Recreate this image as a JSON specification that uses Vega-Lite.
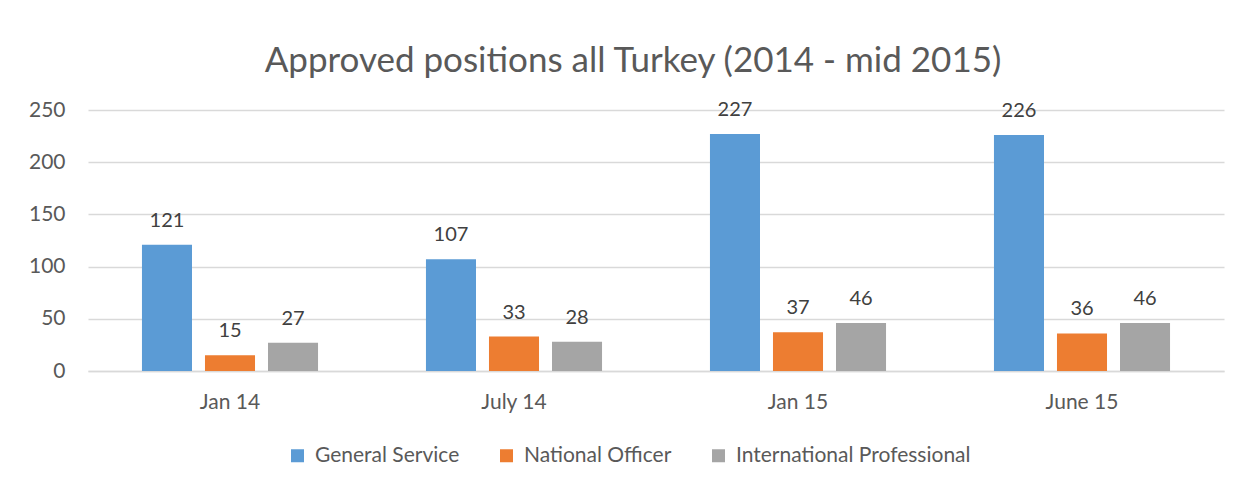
{
  "$schema": "https://vega.github.io/schema/vega-lite/v6.json",
  "autosize": {"type": "none"},
  "width": 1136,
  "height": 261,
  "padding": {"left": 88, "top": 110, "right": 15, "bottom": 116},
  "background": "white",
  "config": {
    "font": "Lato",
    "view": {"stroke": null},
    "axis": {"labelFont": "Lato", "labelColor": "#595959", "labelFontSize": 21}
  },
  "title": {
    "text": "Approved positions all Turkey (2014 - mid 2015)",
    "anchor": "middle",
    "dx": -23,
    "baseline": "alphabetic",
    "offset": -8,
    "fontSize": 35,
    "font": "Lato",
    "fontWeight": "normal",
    "color": "#595959"
  },
  "data": {
    "values": [
      {"period": "Jan 14", "category": "General Service", "value": 121},
      {"period": "Jan 14", "category": "National Officer", "value": 15},
      {"period": "Jan 14", "category": "International Professional", "value": 27},
      {"period": "July 14", "category": "General Service", "value": 107},
      {"period": "July 14", "category": "National Officer", "value": 33},
      {"period": "July 14", "category": "International Professional", "value": 28},
      {"period": "Jan 15", "category": "General Service", "value": 227},
      {"period": "Jan 15", "category": "National Officer", "value": 37},
      {"period": "Jan 15", "category": "International Professional", "value": 46},
      {"period": "June 15", "category": "General Service", "value": 226},
      {"period": "June 15", "category": "National Officer", "value": 36},
      {"period": "June 15", "category": "International Professional", "value": 46}
    ]
  },
  "encoding": {
    "x": {
      "field": "period", "type": "nominal", "sort": null,
      "scale": {"paddingInner": 0.38, "paddingOuter": 0.19},
      "axis": {"title": null, "labelAngle": 0, "domain": true, "domainColor": "#d9d9d9", "domainWidth": 1.5, "ticks": false, "labelPadding": 20, "labelBaseline": "top"}
    },
    "xOffset": {
      "field": "category", "type": "nominal", "sort": ["General Service", "National Officer", "International Professional"],
      "scale": {"paddingInner": 0.206, "paddingOuter": 0}
    },
    "y": {
      "field": "value", "type": "quantitative",
      "scale": {"domain": [0, 250]},
      "axis": {"title": null, "values": [0, 50, 100, 150, 200, 250], "domain": false, "ticks": false, "labelPadding": 23, "gridColor": "#d9d9d9", "gridWidth": 1.5}
    }
  },
  "layer": [
    {
      "mark": {"type": "bar"},
      "encoding": {
        "color": {
          "field": "category", "type": "nominal",
          "sort": ["General Service", "National Officer", "International Professional"],
          "scale": {"domain": ["General Service", "National Officer", "International Professional"], "range": ["#5B9BD5", "#ED7D31", "#A5A5A5"]},
          "legend": {
            "title": null, "orient": "none", "direction": "horizontal",
            "legendX": 199, "legendY": 335,
            "symbolType": "square", "symbolSize": 169, "symbolStrokeWidth": 0,
            "labelFontSize": 21, "labelColor": "#595959", "labelFont": "Lato", "labelLimit": 400,
            "labelOffset": 7, "columnPadding": 36
          }
        }
      }
    },
    {
      "mark": {"type": "text", "baseline": "alphabetic", "dy": -18, "fontSize": 20, "color": "#404040", "font": "Lato"},
      "encoding": {"text": {"field": "value", "type": "quantitative"}}
    }
  ]
}
